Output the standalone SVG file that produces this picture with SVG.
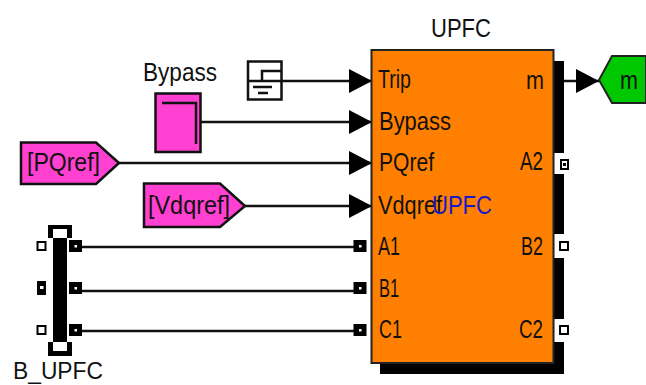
<svg xmlns="http://www.w3.org/2000/svg" width="646" height="385" viewBox="0 0 646 385">
<defs>
<marker id="arr" markerUnits="userSpaceOnUse" markerWidth="24" markerHeight="26" refX="23" refY="13" orient="auto"><path d="M0 1L23 13L0 25Z" fill="#000"/></marker>
<g id="dark"><rect x="-6.500" y="-6" width="13" height="12" fill="#000"/><rect x="-1" y="-1" width="2.500" height="2.500" fill="#fff"/></g>
<g id="lite"><rect x="-4" y="-4" width="8" height="8" fill="#fff" stroke="#000" stroke-width="2"/></g>
</defs>
<style>
text{font-family:"Liberation Sans",Arial,sans-serif;font-size:26px;fill:#111}
.s{fill:#fff;stroke:#111;stroke-width:2.500}
.m{fill:#ff40d0;stroke:#111;stroke-width:2.500}
.c{fill:none;stroke:#111;stroke-width:2.500}
</style>
<rect width="646" height="385" fill="#fff"/>
<g id="connectors">
<path class="c" d="M282 81H372" marker-end="url(#arr)"/>
<path class="c" d="M201 122H372" marker-end="url(#arr)"/>
<path class="c" d="M119 163H372" marker-end="url(#arr)"/>
<path class="c" d="M245 206H372" marker-end="url(#arr)"/>
<path class="c" d="M564 81H599" marker-end="url(#arr)"/>
<path class="c" d="M80 247H355"/>
<path class="c" d="M80 291H355"/>
<path class="c" d="M80 331H355"/>
</g>
<g id="upfc">
<rect x="380" y="61" width="184" height="313" fill="#000"/>
<rect x="371.500" y="50" width="182" height="313" fill="#ff8000" stroke="#222" stroke-width="2"/>
<rect x="554.500" y="153" width="13" height="21" fill="#fff"/>
<rect x="554.500" y="234" width="13" height="24" fill="#fff"/>
<rect x="554.500" y="319" width="13" height="23" fill="#fff"/>
<rect x="561" y="160" width="7" height="9" fill="#fff" stroke="#000" stroke-width="2"/>
<rect x="563" y="163" width="3" height="3" fill="#000"/>
<use href="#lite" x="564" y="246"/>
<use href="#lite" x="564" y="330"/>
<use href="#dark" x="360" y="246"/>
<use href="#dark" x="360" y="288"/>
<use href="#dark" x="360" y="330"/>
<text x="431" y="37" textLength="60" lengthAdjust="spacingAndGlyphs">UPFC</text>
<text x="378" y="88" textLength="33" lengthAdjust="spacingAndGlyphs">Trip</text>
<text x="379" y="130" textLength="72" lengthAdjust="spacingAndGlyphs">Bypass</text>
<text x="379" y="171" textLength="55" lengthAdjust="spacingAndGlyphs">PQref</text>
<text x="378" y="214" textLength="64" lengthAdjust="spacingAndGlyphs">Vdqref</text>
<text x="378" y="255" textLength="22" lengthAdjust="spacingAndGlyphs">A1</text>
<text x="379" y="297" textLength="20" lengthAdjust="spacingAndGlyphs">B1</text>
<text x="379" y="338" textLength="23" lengthAdjust="spacingAndGlyphs">C1</text>
<text x="526" y="89" textLength="18" lengthAdjust="spacingAndGlyphs">m</text>
<text x="520" y="170" textLength="23" lengthAdjust="spacingAndGlyphs">A2</text>
<text x="521" y="255" textLength="22" lengthAdjust="spacingAndGlyphs">B2</text>
<text x="519" y="338" textLength="24" lengthAdjust="spacingAndGlyphs">C2</text>
<text x="432" y="214" textLength="60" lengthAdjust="spacingAndGlyphs" style="fill:#1a1ac8">UPFC</text>
</g>
<g id="trip">
<rect class="s" x="248" y="61.500" width="33.500" height="38"/>
<path class="c" d="M248 81H281M262 81V71H281M253 87H272M258 93H268"/>
</g>
<g id="bypass">
<rect class="m" x="155.500" y="93.500" width="45" height="58.500"/>
<path class="c" d="M162 103H196V144"/>
<text x="143" y="81" textLength="74" lengthAdjust="spacingAndGlyphs">Bypass</text>
</g>
<g id="pqref">
<path class="m" d="M21 142.500H96L119 163L96 184H21Z"/>
<text x="27" y="171" textLength="73" lengthAdjust="spacingAndGlyphs">[PQref]</text>
</g>
<g id="vdqref">
<path class="m" d="M144 183.500H220L245 206L220 227H144Z"/>
<text x="148" y="214" textLength="82" lengthAdjust="spacingAndGlyphs">[Vdqref]</text>
</g>
<g id="bus">
<rect x="53" y="238" width="14" height="104" fill="#000"/>
<rect x="48" y="225" width="24" height="13" fill="#000"/>
<rect x="53" y="229" width="14" height="9" fill="#fff"/>
<rect x="48" y="342" width="24" height="14" fill="#000"/>
<rect x="53" y="342" width="14" height="9" fill="#fff"/>
<use href="#lite" x="41.500" y="246"/>
<rect x="37" y="281" width="9" height="14" fill="#000"/><rect x="40" y="286" width="3.500" height="3" fill="#fff"/>
<use href="#lite" x="41.500" y="330"/>
<use href="#dark" x="75.500" y="246"/>
<use href="#dark" x="75.500" y="288"/>
<use href="#dark" x="75.500" y="330"/>
<text x="13" y="379" textLength="90" lengthAdjust="spacingAndGlyphs" style="font-size:23px">B_UPFC</text>
</g>
<g id="m-goto">
<path d="M599 80L612 56H646V103H612Z" fill="#00c800" stroke="#222" stroke-width="2"/>
<text x="620" y="89" textLength="18" lengthAdjust="spacingAndGlyphs">m</text>
</g>
</svg>
